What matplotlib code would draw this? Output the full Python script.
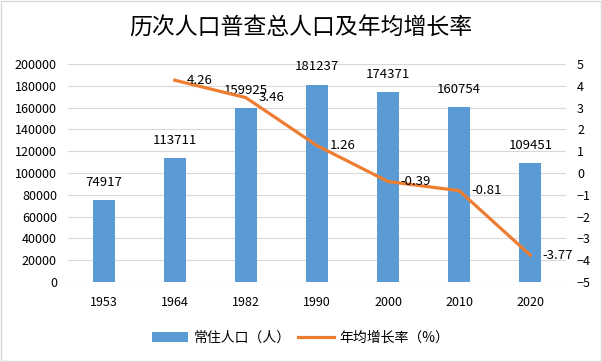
import numpy as np
import matplotlib
matplotlib.use("Agg")
import matplotlib.pyplot as plt
from matplotlib.patches import Rectangle

plt.rcParams['font.family'] = ['Noto Sans CJK SC', 'DejaVu Sans']

years = ["1953", "1964", "1982", "1990", "2000", "2010", "2020"]
population = [74917, 113711, 159925, 181237, 174371, 160754, 109451]
growth_years = ["1964", "1982", "1990", "2000", "2010", "2020"]
growth = [4.26, 3.46, 1.26, -0.39, -0.81, -3.77]

bar_color = "#5B9BD5"
line_color = "#ED7D31"
grid_color = "#D9D9D9"

fig = plt.figure(figsize=(6.02, 3.62), dpi=100)
ax = fig.add_axes([0.113, 0.221, 0.827, 0.602])

x = np.arange(len(years))
bars = ax.bar(x, population, width=0.31, color=bar_color, label="常住人口（人）", zorder=2)
for xi, v in zip(x, population):
    ax.annotate(str(v), (xi, v), xytext=(0, 8), textcoords="offset points",
                ha="center", va="bottom", fontsize=9.5)

ax.set_xlim(-0.5, len(years) - 0.5)
ax.set_ylim(0, 200000)
ax.set_yticks(np.arange(0, 200001, 20000))
ax.set_xticks(x)
ax.set_xticklabels(years)
ax.grid(axis="y", color=grid_color, linewidth=0.8, zorder=0)
ax.set_axisbelow(True)
for s in ax.spines.values():
    s.set_visible(False)
ax.tick_params(length=0, labelsize=9, pad=10)
ax.tick_params(axis="y", pad=8)

ax2 = ax.twinx()
gx = [years.index(y) for y in growth_years]
line, = ax2.plot(gx, growth, color=line_color, linewidth=2.3,
                 label="年均增长率（%）", zorder=3)
for xi, v in zip(gx, growth):
    ax2.annotate(f"{v:.2f}", (xi, v), xytext=(9, 0), textcoords="offset points",
                 ha="left", va="center", fontsize=9.5)
ax2.set_ylim(-5, 5)
ax2.set_yticks(np.arange(-5, 6, 1))
for s in ax2.spines.values():
    s.set_visible(False)
ax2.tick_params(length=0, labelsize=9, pad=8)

fig.text(0.5, 0.922, "历次人口普查总人口及年均增长率", ha="center", va="center", fontsize=16.5)

fig.legend(handles=[bars, line], loc="center", bbox_to_anchor=(0.5, 0.066),
           ncol=2, frameon=False, fontsize=10, handlelength=2.6,
           columnspacing=0.5, handletextpad=0.4)

fig.patches.append(Rectangle((0.002, 0.003), 0.996, 0.994, transform=fig.transFigure,
                             fill=False, edgecolor=grid_color, linewidth=1))

fig.savefig("out.png", dpi=100)
